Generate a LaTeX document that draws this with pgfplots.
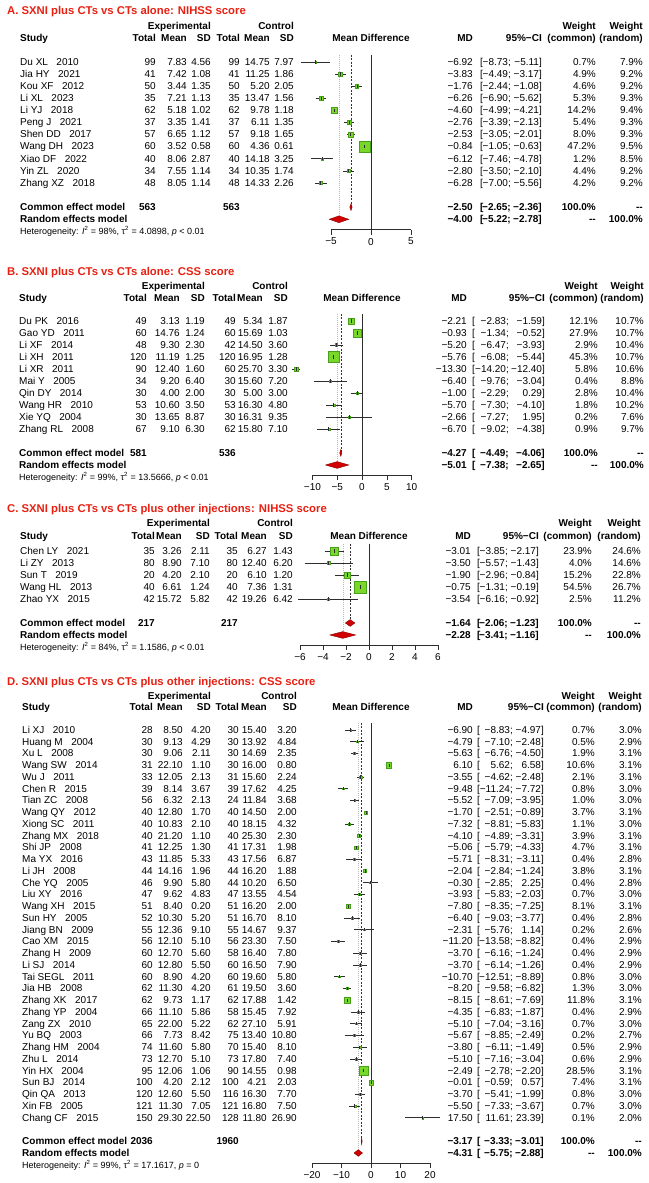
\documentclass[border=0pt]{standalone}
\usepackage{pgfplots}
\pgfplotsset{compat=1.18}
\usepackage{pgfplotstable}
\usepackage{fontspec}
\setmainfont{Liberation Sans}

\definecolor{ttl}{RGB}{232,32,18}
\definecolor{sq}{RGB}{120,215,40}
\definecolor{sqe}{RGB}{70,160,25}
\definecolor{dia}{RGB}{210,0,0}
\definecolor{diae}{RGB}{130,0,0}
\definecolor{lncol}{RGB}{45,45,45}

\newcommand\dfont{\fontsize{10}{12}\selectfont}
\newcommand\bfont{\fontsize{10}{12}\selectfont\bfseries}
\newcommand\hfont{\fontsize{9}{11}\selectfont}
\newcommand\tfont{\fontsize{11.3}{13}\selectfont\bfseries}
\def\g{\kern8.5pt\relax}
% print a leading hyphen as a true minus
\newcommand\mm[1]{\edef\mmtmp{#1}\expandafter\mmA\mmtmp\relax}
\def\mmA#1#2\relax{\ifx-#1−#2\else#1#2\fi}

\tikzset{
  le/.style={anchor=west, inner sep=0pt, font=\dfont, text height=1.5ex, text depth=.25ex},
  re/.style={anchor=east, inner sep=0pt, font=\dfont, text height=1.5ex, text depth=.25ex},
  zl/.style={lncol, line width=0.6pt},
  cl/.style={gray!40!black, line width=0.5pt, dash pattern=on 2pt off 1.5pt},
  rl/.style={gray!55, line width=0.5pt, dash pattern=on 0.8pt off 1.2pt},
  dm/.style={fill=dia, draw=diae, line width=0.4pt},
}
\pgfplotsset{
  txtax/.style={scale only axis, hide axis, clip=false, anchor=north west,
    width=648pt, xmin=0, xmax=648, ymax=5},
  fax/.style={scale only axis, clip=false, anchor=north west, ymax=5,
    axis x line*=bottom, axis y line=none, ytick=\empty,
    tick align=outside, major tick length=5pt,
    axis line style={lncol, line width=0.55pt},
    xtick style={lncol, line width=0.55pt},
    xticklabel style={font=\dfont, text=black}},
  txt/.style={draw=none, mark=none, nodes near coords={\pgfplotspointmeta},
    point meta=explicit symbolic,
    every node near coord/.append style={re, text=black}},
  txtl/.style={txt, every node near coord/.append style={le}},
  sqs/.style={scatter, only marks, mark=square*, point meta=explicit,
    scatter/use mapped color={draw=sqe, fill=sq}, mark options={line width=0.3pt},
    visualization depends on={max(0.8*sqrt(\thisrow{wc}),0.9) \as \msz},
    scatter/@pre marker code/.append style={/tikz/mark size=\msz}},
}

\newcommand\coltext[1]{%
  \addplot[txtl] table[x expr=\xS, y expr=-\thisrow{row}, meta=study]{#1};
  \addplot[txt] table[x expr=\xNa, y expr=-\thisrow{row}, meta=n1]{#1};
  \addplot[txt] table[x expr=\xMa, y expr=-\thisrow{row}, meta=m1]{#1};
  \addplot[txt] table[x expr=\xSa, y expr=-\thisrow{row}, meta=s1]{#1};
  \addplot[txt] table[x expr=\xNb, y expr=-\thisrow{row}, meta=n2]{#1};
  \addplot[txt] table[x expr=\xMb, y expr=-\thisrow{row}, meta=m2]{#1};
  \addplot[txt] table[x expr=\xSb, y expr=-\thisrow{row}, meta=s2]{#1};
  \addplot[txt, nodes near coords={\mm{\pgfplotspointmeta}}] table[x expr=\xMD, y expr=-\thisrow{row}, meta=md]{#1};
  \addplot[txtl, nodes near coords={[}] table[x expr=\xLB, y expr=-\thisrow{row}, meta=md]{#1};
  \addplot[txt, nodes near coords={\mm{\pgfplotspointmeta};}] table[x expr=\xLO, y expr=-\thisrow{row}, meta=lo]{#1};
  \addplot[txt, nodes near coords={\mm{\pgfplotspointmeta}]}] table[x expr=\xHI, y expr=-\thisrow{row}, meta=hi]{#1};
  \addplot[txt, nodes near coords={\pgfplotspointmeta\%}] table[x expr=\xWC, y expr=-\thisrow{row}, meta=wc]{#1};
  \addplot[txt, nodes near coords={\pgfplotspointmeta\%}] table[x expr=\xWR, y expr=-\thisrow{row}, meta=wr]{#1};
}
\newcommand\heads{%
  \node[le, font=\bfont] at (axis cs:\xS,\yS) {Study};
  \node[re, font=\bfont] at (axis cs:\xNa,\yS) {Total};
  \node[re, font=\bfont] at (axis cs:\xMa,\yS) {Mean};
  \node[re, font=\bfont] at (axis cs:\xSa,\yS) {SD};
  \node[re, font=\bfont] at (axis cs:\xNb,\yS) {Total};
  \node[re, font=\bfont] at (axis cs:\xMb,\yS) {Mean};
  \node[re, font=\bfont] at (axis cs:\xSb,\yS) {SD};
  \node[re, font=\bfont] at (axis cs:\xSa,\yE) {Experimental};
  \node[re, font=\bfont] at (axis cs:\xSb,\yE) {Control};
  \node[re, anchor=center, font=\bfont] at (axis cs:\xFC,\yS) {Mean Difference};
  \node[re, font=\bfont] at (axis cs:\xMD,\yS) {MD};
  \node[re, font=\bfont] at (axis cs:\xHI,\yS) {95\%−CI};
  \node[re, font=\bfont] at (axis cs:\xWC,\yE) {Weight};
  \node[re, font=\bfont] at (axis cs:\xWC,\yS) {(common)};
  \node[re, font=\bfont] at (axis cs:\xWR,\yE) {Weight};
  \node[re, font=\bfont] at (axis cs:\xWR,\yS) {(random)};
}
\newcommand\summ[6]{%
  \node[re, font=\bfont] at (axis cs:\xMD,#1) {#2};
  \node[le, font=\bfont] at (axis cs:\xLB,#1) {[};
  \node[re, font=\bfont] at (axis cs:\xLO,#1) {#3;};
  \node[re, font=\bfont] at (axis cs:\xHI,#1) {#4]};
  \node[re, font=\bfont] at (axis cs:\xWC,#1) {#5};
  \node[re, font=\bfont] at (axis cs:\xWR,#1) {#6};
}
\newcommand\modelrows[2]{%
  \node[le, font=\bfont] at (axis cs:\xS,\yC) {Common effect model};
  \node[re, font=\bfont] at (axis cs:\xNa,\yC) {#1};
  \node[re, font=\bfont] at (axis cs:\xNb,\yC) {#2};
  \node[le, font=\bfont] at (axis cs:\xS,\yR) {Random effects model};
}
% squares first, then the CI line and a small tick at the estimate on top
\newcommand\fplot[1]{%
  \addplot[sqs] table[x=md, y expr=-\thisrow{row}, meta=wc]{#1};
  \addplot[lncol, line width=0.6pt, quiver={u=\thisrow{hi}-\thisrow{lo}, v=0}] table[x=lo, y expr=-\thisrow{row}]{#1};
  \addplot[only marks, mark=|, mark size=1.6pt, mark options={lncol, line width=0.6pt}] table[x=md, y expr=-\thisrow{row}]{#1};
}

\pgfplotstableread[col sep=comma]{
row,study,n1,m1,s1,n2,m2,s2,md,lo,hi,wc,wr
0,Du XL\g2010,99,7.83,4.56,99,14.75,7.97,-6.92,-8.73,-5.11,0.7,7.9
1,Jia HY\g2021,41,7.42,1.08,41,11.25,1.86,-3.83,-4.49,-3.17,4.9,9.2
2,Kou XF\g2012,50,3.44,1.35,50,5.20,2.05,-1.76,-2.44,-1.08,4.6,9.2
3,Li XL\g2023,35,7.21,1.13,35,13.47,1.56,-6.26,-6.90,-5.62,5.3,9.3
4,Li YJ\g2018,62,5.18,1.02,62,9.78,1.18,-4.60,-4.99,-4.21,14.2,9.4
5,Peng J\g2021,37,3.35,1.41,37,6.11,1.35,-2.76,-3.39,-2.13,5.4,9.3
6,Shen DD\g2017,57,6.65,1.12,57,9.18,1.65,-2.53,-3.05,-2.01,8.0,9.3
7,Wang DH\g2023,60,3.52,0.58,60,4.36,0.61,-0.84,-1.05,-0.63,47.2,9.5
8,Xiao DF\g2022,40,8.06,2.87,40,14.18,3.25,-6.12,-7.46,-4.78,1.2,8.5
9,Yin ZL\g2020,34,7.55,1.14,34,10.35,1.74,-2.80,-3.50,-2.10,4.4,9.2
10,Zhang XZ\g2018,48,8.05,1.14,48,14.33,2.26,-6.28,-7.00,-5.56,4.2,9.2
}\tabA

\pgfplotstableread[col sep=comma]{
row,study,n1,m1,s1,n2,m2,s2,md,lo,hi,wc,wr
0,Du PK\g2016,49,3.13,1.19,49,5.34,1.87,-2.21,-2.83,-1.59,12.1,10.7
1,Gao YD\g2011,60,14.76,1.24,60,15.69,1.03,-0.93,-1.34,-0.52,27.9,10.7
2,Li XF\g2014,48,9.30,2.30,42,14.50,3.60,-5.20,-6.47,-3.93,2.9,10.4
3,Li XH\g2011,120,11.19,1.25,120,16.95,1.28,-5.76,-6.08,-5.44,45.3,10.7
4,Li XR\g2011,90,12.40,1.60,60,25.70,3.30,-13.30,-14.20,-12.40,5.8,10.6
5,Mai Y\g2005,34,9.20,6.40,30,15.60,7.20,-6.40,-9.76,-3.04,0.4,8.8
6,Qin DY\g2014,30,4.00,2.00,30,5.00,3.00,-1.00,-2.29,0.29,2.8,10.4
7,Wang HR\g2010,53,10.60,3.50,53,16.30,4.80,-5.70,-7.30,-4.10,1.8,10.2
8,Xie YQ\g2004,30,13.65,8.87,30,16.31,9.35,-2.66,-7.27,1.95,0.2,7.6
9,Zhang RL\g2008,67,9.10,6.30,62,15.80,7.10,-6.70,-9.02,-4.38,0.9,9.7
}\tabB

\pgfplotstableread[col sep=comma]{
row,study,n1,m1,s1,n2,m2,s2,md,lo,hi,wc,wr
0,Chen LY\g2021,35,3.26,2.11,35,6.27,1.43,-3.01,-3.85,-2.17,23.9,24.6
1,Li ZY\g2013,80,8.90,7.10,80,12.40,6.20,-3.50,-5.57,-1.43,4.0,14.6
2,Sun T\g2019,20,4.20,2.10,20,6.10,1.20,-1.90,-2.96,-0.84,15.2,22.8
3,Wang HL\g2013,40,6.61,1.24,40,7.36,1.31,-0.75,-1.31,-0.19,54.5,26.7
4,Zhao YX\g2015,42,15.72,5.82,42,19.26,6.42,-3.54,-6.16,-0.92,2.5,11.2
}\tabC

\pgfplotstableread[col sep=comma]{
row,study,n1,m1,s1,n2,m2,s2,md,lo,hi,wc,wr
0,Li XJ\g2010,28,8.50,4.20,30,15.40,3.20,-6.90,-8.83,-4.97,0.7,3.0
1,Huang M\g2004,30,9.13,4.29,30,13.92,4.84,-4.79,-7.10,-2.48,0.5,2.9
2,Xu L\g2008,30,9.06,2.11,30,14.69,2.35,-5.63,-6.76,-4.50,1.9,3.1
3,Wang SW\g2014,31,22.10,1.10,30,16.00,0.80,6.10,5.62,6.58,10.6,3.1
4,Wu J\g2011,33,12.05,2.13,31,15.60,2.24,-3.55,-4.62,-2.48,2.1,3.1
5,Chen R\g2015,39,8.14,3.67,39,17.62,4.25,-9.48,-11.24,-7.72,0.8,3.0
6,Tian ZC\g2008,56,6.32,2.13,24,11.84,3.68,-5.52,-7.09,-3.95,1.0,3.0
7,Wang QY\g2012,40,12.80,1.70,40,14.50,2.00,-1.70,-2.51,-0.89,3.7,3.1
8,Xiong SC\g2011,40,10.83,2.10,40,18.15,4.32,-7.32,-8.81,-5.83,1.1,3.0
9,Zhang MX\g2018,40,21.20,1.10,40,25.30,2.30,-4.10,-4.89,-3.31,3.9,3.1
10,Shi JP\g2008,41,12.25,1.30,41,17.31,1.98,-5.06,-5.79,-4.33,4.7,3.1
11,Ma YX\g2016,43,11.85,5.33,43,17.56,6.87,-5.71,-8.31,-3.11,0.4,2.8
12,Li JH\g2008,44,14.16,1.96,44,16.20,1.88,-2.04,-2.84,-1.24,3.8,3.1
13,Che YQ\g2005,46,9.90,5.80,44,10.20,6.50,-0.30,-2.85,2.25,0.4,2.8
14,Liu XY\g2016,47,9.62,4.83,47,13.55,4.54,-3.93,-5.83,-2.03,0.7,3.0
15,Wang XH\g2015,51,8.40,0.20,51,16.20,2.00,-7.80,-8.35,-7.25,8.1,3.1
16,Sun HY\g2005,52,10.30,5.20,51,16.70,8.10,-6.40,-9.03,-3.77,0.4,2.8
17,Jiang BN\g2009,55,12.36,9.10,55,14.67,9.37,-2.31,-5.76,1.14,0.2,2.6
18,Cao XM\g2015,56,12.10,5.10,56,23.30,7.50,-11.20,-13.58,-8.82,0.4,2.9
19,Zhang H\g2009,60,12.70,5.60,58,16.40,7.80,-3.70,-6.16,-1.24,0.4,2.9
20,Li SJ\g2014,60,12.80,5.50,60,16.50,7.90,-3.70,-6.14,-1.26,0.4,2.9
21,Tai SEGL\g2011,60,8.90,4.20,60,19.60,5.80,-10.70,-12.51,-8.89,0.8,3.0
22,Jia HB\g2008,62,11.30,4.20,61,19.50,3.60,-8.20,-9.58,-6.82,1.3,3.0
23,Zhang XK\g2017,62,9.73,1.17,62,17.88,1.42,-8.15,-8.61,-7.69,11.8,3.1
24,Zhang YP\g2004,66,11.10,5.86,58,15.45,7.92,-4.35,-6.83,-1.87,0.4,2.9
25,Zang ZX\g2010,65,22.00,5.22,62,27.10,5.91,-5.10,-7.04,-3.16,0.7,3.0
26,Yu BQ\g2003,66,7.73,8.42,75,13.40,10.80,-5.67,-8.85,-2.49,0.2,2.7
27,Zhang HM\g2004,74,11.60,5.80,70,15.40,8.10,-3.80,-6.11,-1.49,0.5,2.9
28,Zhu L\g2014,73,12.70,5.10,73,17.80,7.40,-5.10,-7.16,-3.04,0.6,2.9
29,Yin HX\g2004,95,12.06,1.06,90,14.55,0.98,-2.49,-2.78,-2.20,28.5,3.1
30,Sun BJ\g2014,100,4.20,2.12,100,4.21,2.03,-0.01,-0.59,0.57,7.4,3.1
31,Qin QA\g2013,120,12.60,5.50,116,16.30,7.70,-3.70,-5.41,-1.99,0.8,3.0
32,Xin FB\g2005,121,11.30,7.05,121,16.80,7.50,-5.50,-7.33,-3.67,0.7,3.0
33,Chang CF\g2015,150,29.30,22.50,128,11.80,26.90,17.50,11.61,23.39,0.1,2.0
}\tabD

\begin{document}
\begin{tikzpicture}
\useasboundingbox (0,0) rectangle (648pt,1183pt);

% ---------------- A
\def\xS{20}\def\xNa{156}\def\xMa{187}\def\xSa{211}\def\xNb{240}\def\xMb{270}\def\xSb{294}
\def\xFC{371}\def\xMD{473}\def\xLB{480}\def\xLO{511}\def\xHI{542}\def\xWC{596}\def\xWR{643}
\def\yT{4.21}\def\yE{2.98}\def\yS{1.98}\def\yC{-12}\def\yR{-13}\def\yH{-14}
\begin{axis}[txtax, at={(0pt,1181.5pt)}, height=228.085pt, ymin=-13.85]
\coltext{\tabA}
\heads
\node[le, font=\tfont, text=ttl] at (axis cs:7,\yT) {A. SXNI plus CTs vs CTs alone: NIHSS score};
\modelrows{563}{563}
\summ{\yC}{−2.50}{−2.65}{−2.36}{100.0\%}{-{}-}
\summ{\yR}{−4.00}{−5.22}{−2.78}{-{}-}{100.0\%}
\node[le, font=\hfont] at (axis cs:\xS,\yH) {Heterogeneity: \textit{I}\textsuperscript{2} = 98\%, τ\textsuperscript{2} = 4.0898, \textit{p} < 0.01};
\end{axis}
\begin{axis}[fax, at={(331pt,1181.5pt)}, width=80pt, height=228.085pt, ymin=-13.85,
  xmin=-5, xmax=5, xtick={-5,0,5}, xticklabels={−5,0,5}]
\addplot[zl] coordinates {(0,0.6) (0,-13.85)};
\addplot[cl] coordinates {(-2.50,0.6) (-2.50,-12)};
\addplot[rl] coordinates {(-4.00,0.6) (-4.00,-13)};
\fplot{\tabA}
\addplot[dm] coordinates {(-2.65,-12) (-2.50,-11.72) (-2.36,-12) (-2.50,-12.28) (-2.65,-12)};
\addplot[dm] coordinates {(-5.22,-13) (-4.00,-12.72) (-2.78,-13) (-4.00,-13.28) (-5.22,-13)};
\end{axis}

% ---------------- B
\def\xS{19}\def\xNa{147}\def\xMa{180}\def\xSa{205}\def\xNb{236}\def\xMb{263}\def\xSb{288}
\def\xFC{362}\def\xMD{467}\def\xLB{472}\def\xLO{509}\def\xHI{545}\def\xWC{598}\def\xWR{644}
\def\yT{4.08}\def\yE{2.9}\def\yS{1.9}\def\yC{-11}\def\yR{-12}\def\yH{-13}
\begin{axis}[txtax, at={(0pt,922pt)}, height=214.2pt, ymin=-12.85]
\coltext{\tabB}
\heads
\node[le, font=\tfont, text=ttl] at (axis cs:7,\yT) {B. SXNI plus CTs vs CTs alone: CSS score};
\modelrows{581}{536}
\summ{\yC}{−4.27}{−4.49}{−4.06}{100.0\%}{-{}-}
\summ{\yR}{−5.01}{−7.38}{−2.65}{-{}-}{100.0\%}
\node[le, font=\hfont] at (axis cs:\xS,\yH) {Heterogeneity: \textit{I}\textsuperscript{2} = 99\%, τ\textsuperscript{2} = 13.5666, \textit{p} < 0.01};
\end{axis}
\begin{axis}[fax, at={(312.4pt,922pt)}, width=99.2pt, height=214.2pt, ymin=-12.85,
  xmin=-10, xmax=10, xtick={-10,-5,0,5,10}, xticklabels={−10,−5,0,5,10}]
\addplot[zl] coordinates {(0,0.6) (0,-12.85)};
\addplot[cl] coordinates {(-4.27,0.6) (-4.27,-11)};
\addplot[rl] coordinates {(-5.01,0.6) (-5.01,-12)};
\fplot{\tabB}
\addplot[dm] coordinates {(-4.49,-11) (-4.27,-10.72) (-4.06,-11) (-4.27,-11.28) (-4.49,-11)};
\addplot[dm] coordinates {(-7.38,-12) (-5.01,-11.72) (-2.65,-12) (-5.01,-12.28) (-7.38,-12)};
\end{axis}

% ---------------- C
\def\xS{20}\def\xNa{155}\def\xMa{182}\def\xSa{210}\def\xNb{238}\def\xMb{267}\def\xSb{293}
\def\xFC{369}\def\xMD{471}\def\xLB{477}\def\xLO{508}\def\xHI{539}\def\xWC{592}\def\xWR{641}
\def\yT{3.5}\def\yE{2.33}\def\yS{1.25}\def\yC{-6}\def\yR{-7}\def\yH{-8}
\begin{axis}[txtax, at={(0pt,692pt)}, height=153.96pt, ymin=-7.83]
\coltext{\tabC}
\heads
\node[le, font=\tfont, text=ttl] at (axis cs:7,\yT) {C. SXNI plus CTs vs CTs plus other injections: NIHSS score};
\modelrows{217}{217}
\summ{\yC}{−1.64}{−2.06}{−1.23}{100.0\%}{-{}-}
\summ{\yR}{−2.28}{−3.41}{−1.16}{-{}-}{100.0\%}
\node[le, font=\hfont] at (axis cs:\xS,\yH) {Heterogeneity: \textit{I}\textsuperscript{2} = 84\%, τ\textsuperscript{2} = 1.1586, \textit{p} < 0.01};
\end{axis}
\begin{axis}[fax, at={(300pt,692pt)}, width=138pt, height=153.96pt, ymin=-7.83,
  xmin=-6, xmax=6, xtick={-6,-4,-2,0,2,4,6}, xticklabels={−6,−4,−2,0,2,4,6}]
\addplot[zl] coordinates {(0,0.6) (0,-7.83)};
\addplot[cl] coordinates {(-1.64,0.6) (-1.64,-6)};
\addplot[rl] coordinates {(-2.28,0.6) (-2.28,-7)};
\fplot{\tabC}
\addplot[dm] coordinates {(-2.06,-6) (-1.64,-5.72) (-1.23,-6) (-1.64,-6.28) (-2.06,-6)};
\addplot[dm] coordinates {(-3.41,-7) (-2.28,-6.72) (-1.16,-7) (-2.28,-7.28) (-3.41,-7)};
\end{axis}

% ---------------- D
\def\xS{22}\def\xNa{153}\def\xMa{183}\def\xSa{211}\def\xNb{239}\def\xMb{267}\def\xSb{297}
\def\xFC{371}\def\xMD{473}\def\xLB{477}\def\xLO{513}\def\xHI{544}\def\xWC{595}\def\xWR{642}
\def\yT{4.09}\def\yE{2.89}\def\yS{1.96}\def\yC{-35}\def\yR{-36}\def\yH{-37}
\begin{axis}[txtax, at={(0pt,511.75pt)}, height=491.74pt, ymin=-36.85]
\coltext{\tabD}
\heads
\node[le, font=\tfont, text=ttl] at (axis cs:7,\yT) {D. SXNI plus CTs vs CTs plus other injections: CSS score};
\modelrows{2036}{1960}
\summ{\yC}{−3.17}{−3.33}{−3.01}{100.0\%}{-{}-}
\summ{\yR}{−4.31}{−5.75}{−2.88}{-{}-}{100.0\%}
\node[le, font=\hfont] at (axis cs:\xS,\yH) {Heterogeneity: \textit{I}\textsuperscript{2} = 99\%, τ\textsuperscript{2} = 17.1617, \textit{p} = 0};
\end{axis}
\begin{axis}[fax, at={(312pt,511.75pt)}, width=118pt, height=491.74pt, ymin=-36.85,
  xmin=-20, xmax=20, xtick={-20,-10,0,10,20}, xticklabels={−20,−10,0,10,20}]
\addplot[zl] coordinates {(0,0.6) (0,-36.85)};
\addplot[cl] coordinates {(-3.17,0.6) (-3.17,-35)};
\addplot[rl] coordinates {(-4.31,0.6) (-4.31,-36)};
\fplot{\tabD}
\addplot[dm] coordinates {(-3.33,-35) (-3.17,-34.72) (-3.01,-35) (-3.17,-35.28) (-3.33,-35)};
\addplot[dm] coordinates {(-5.75,-36) (-4.31,-35.72) (-2.88,-36) (-4.31,-36.28) (-5.75,-36)};
\end{axis}
\end{tikzpicture}
\end{document}
